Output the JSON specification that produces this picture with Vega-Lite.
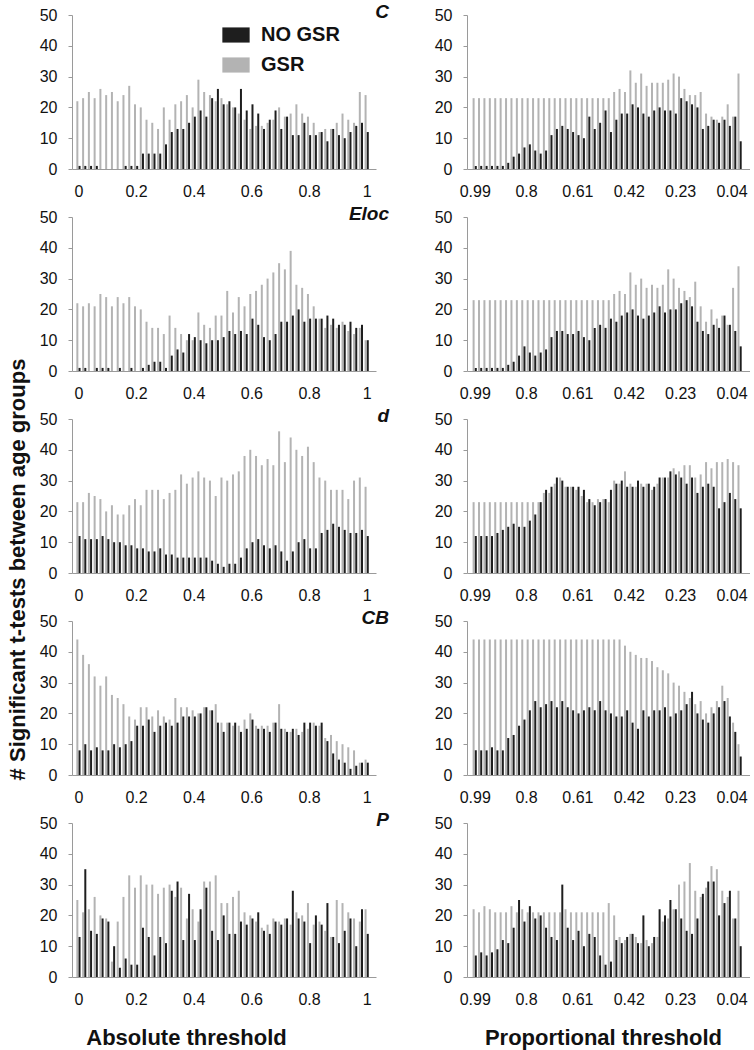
{
"$schema":"https://vega.github.io/schema/vega-lite/v6.json",
"background":"white",
"padding":{"left":6,"top":3,"right":0,"bottom":4},
"config":{
 "font":"Liberation Sans",
 "view":{"stroke":null},
 "axis":{"grid":false,"domainColor":"#9a9a9a","tickColor":"#9a9a9a","labelFontSize":16,"labelColor":"#111","labelFont":"Liberation Sans"},
 "axisX":{"ticks":false,"labelPadding":14,"labelFlush":false,"labelOverlap":false},
 "axisY":{"tickSize":4,"labelPadding":11,"values":[0,10,20,30,40,50]},
 "title":{"fontSize":19,"fontWeight":"bold","fontStyle":"italic","color":"#111","anchor":"end","frame":"group","offset":-9,"dy":6,"dx":13}
},
"columns":2,
"bounds":"flush",
"spacing":{"row":48,"column":91},
"concat":[
 {"width":304,"height":154,"data":{"name":"Ca"},"title":"C",
  "encoding":{"x":{"field":"x","type":"quantitative","scale":{"domain":[-0.005,1.015],"nice":false},"axis":{"values":[0,0.2,0.4,0.6,0.8,1],"format":".2~g","title":null}}},
  "layer":[
   {"mark":{"type":"bar","width":2,"xOffset":-1.1},"encoding":{"y":{"field":"g","type":"quantitative","scale":{"domain":[0,50],"nice":false},"axis":{"title":null}},
     "color":{"datum":"GSR","scale":{"domain":["NO GSR","GSR"],"range":["#1e1e1e","#b3b3b3"]},"legend":{"title":null,"orient":"none","legendX":154,"legendY":10,"labelFontSize":20,"labelFontWeight":"bold","labelColor":"#111","symbolType":"M-1.8,-1H1.8V1H-1.8Z","symbolSize":230,"symbolStrokeWidth":0,"symbolOpacity":1,"rowPadding":10,"labelOffset":15}}}},
   {"mark":{"type":"bar","width":2,"xOffset":1.1},"encoding":{"y":{"field":"n","type":"quantitative","title":null},"color":{"datum":"NO GSR"}}}
  ]},
 {"width":283,"height":154,"data":{"name":"Cp"},
  "encoding":{"x":{"field":"x","type":"quantitative","scale":{"domain":[-0.01,1],"reverse":true,"nice":false},"axis":{"values":[0.99,0.8,0.61,0.42,0.23,0.04],"format":".2~g","title":null}}},
  "layer":[
   {"mark":{"type":"bar","width":2,"xOffset":-1.1,"color":"#b3b3b3"},"encoding":{"y":{"field":"g","type":"quantitative","scale":{"domain":[0,50],"nice":false},"axis":{"title":null}}}},
   {"mark":{"type":"bar","width":2,"xOffset":1.1,"color":"#1e1e1e"},"encoding":{"y":{"field":"n","type":"quantitative","title":null}}}
  ]},
 {"width":304,"height":154,"data":{"name":"Ea"},"title":"Eloc",
  "encoding":{"x":{"field":"x","type":"quantitative","scale":{"domain":[-0.005,1.015],"nice":false},"axis":{"values":[0,0.2,0.4,0.6,0.8,1],"format":".2~g","title":null}}},
  "layer":[
   {"mark":{"type":"bar","width":2,"xOffset":-1.1,"color":"#b3b3b3"},"encoding":{"y":{"field":"g","type":"quantitative","scale":{"domain":[0,50],"nice":false},"axis":{"title":null}}}},
   {"mark":{"type":"bar","width":2,"xOffset":1.1,"color":"#1e1e1e"},"encoding":{"y":{"field":"n","type":"quantitative","title":null}}}
  ]},
 {"width":283,"height":154,"data":{"name":"Ep"},
  "encoding":{"x":{"field":"x","type":"quantitative","scale":{"domain":[-0.01,1],"reverse":true,"nice":false},"axis":{"values":[0.99,0.8,0.61,0.42,0.23,0.04],"format":".2~g","title":null}}},
  "layer":[
   {"mark":{"type":"bar","width":2,"xOffset":-1.1,"color":"#b3b3b3"},"encoding":{"y":{"field":"g","type":"quantitative","scale":{"domain":[0,50],"nice":false},"axis":{"title":null}}}},
   {"mark":{"type":"bar","width":2,"xOffset":1.1,"color":"#1e1e1e"},"encoding":{"y":{"field":"n","type":"quantitative","title":null}}}
  ]},
 {"width":304,"height":154,"data":{"name":"da"},"title":"d",
  "encoding":{"x":{"field":"x","type":"quantitative","scale":{"domain":[-0.005,1.015],"nice":false},"axis":{"values":[0,0.2,0.4,0.6,0.8,1],"format":".2~g","title":null}}},
  "layer":[
   {"mark":{"type":"bar","width":2,"xOffset":-1.1,"color":"#b3b3b3"},"encoding":{"y":{"field":"g","type":"quantitative","scale":{"domain":[0,50],"nice":false},"axis":{"title":null}}}},
   {"mark":{"type":"bar","width":2,"xOffset":1.1,"color":"#1e1e1e"},"encoding":{"y":{"field":"n","type":"quantitative","title":null}}}
  ]},
 {"width":283,"height":154,"data":{"name":"dp"},
  "encoding":{"x":{"field":"x","type":"quantitative","scale":{"domain":[-0.01,1],"reverse":true,"nice":false},"axis":{"values":[0.99,0.8,0.61,0.42,0.23,0.04],"format":".2~g","title":null}}},
  "layer":[
   {"mark":{"type":"bar","width":2,"xOffset":-1.1,"color":"#b3b3b3"},"encoding":{"y":{"field":"g","type":"quantitative","title":"# Significant t-tests between age groups","scale":{"domain":[0,50],"nice":false},"axis":{"title":"# Significant t-tests between age groups","titleFont":"Liberation Sans","titleFontSize":22,"titleFontWeight":"bold","titleColor":"#111","titleX":-450,"titleY":150,"titleBaseline":"middle","titleAlign":"center","titleAngle":-90}}}},
   {"mark":{"type":"bar","width":2,"xOffset":1.1,"color":"#1e1e1e"},"encoding":{"y":{"field":"n","type":"quantitative","title":"# Significant t-tests between age groups"}}}
  ]},
 {"width":304,"height":154,"data":{"name":"Ba"},"title":"CB",
  "encoding":{"x":{"field":"x","type":"quantitative","scale":{"domain":[-0.005,1.015],"nice":false},"axis":{"values":[0,0.2,0.4,0.6,0.8,1],"format":".2~g","title":null}}},
  "layer":[
   {"mark":{"type":"bar","width":2,"xOffset":-1.1,"color":"#b3b3b3"},"encoding":{"y":{"field":"g","type":"quantitative","scale":{"domain":[0,50],"nice":false},"axis":{"title":null}}}},
   {"mark":{"type":"bar","width":2,"xOffset":1.1,"color":"#1e1e1e"},"encoding":{"y":{"field":"n","type":"quantitative","title":null}}}
  ]},
 {"width":283,"height":154,"data":{"name":"Bp"},
  "encoding":{"x":{"field":"x","type":"quantitative","scale":{"domain":[-0.01,1],"reverse":true,"nice":false},"axis":{"values":[0.99,0.8,0.61,0.42,0.23,0.04],"format":".2~g","title":null}}},
  "layer":[
   {"mark":{"type":"bar","width":2,"xOffset":-1.1,"color":"#b3b3b3"},"encoding":{"y":{"field":"g","type":"quantitative","scale":{"domain":[0,50],"nice":false},"axis":{"title":null}}}},
   {"mark":{"type":"bar","width":2,"xOffset":1.1,"color":"#1e1e1e"},"encoding":{"y":{"field":"n","type":"quantitative","title":null}}}
  ]},
 {"width":304,"height":154,"data":{"name":"Pa"},"title":"P",
  "encoding":{"x":{"field":"x","type":"quantitative","scale":{"domain":[-0.005,1.015],"nice":false},"axis":{"values":[0,0.2,0.4,0.6,0.8,1],"format":".2~g","title":"Absolute threshold","titleFont":"Liberation Sans","titleFontSize":22,"titleFontWeight":"bold","titleColor":"#111","titleX":114,"titleY":50}}},
  "layer":[
   {"mark":{"type":"bar","width":2,"xOffset":-1.1,"color":"#b3b3b3"},"encoding":{"y":{"field":"g","type":"quantitative","scale":{"domain":[0,50],"nice":false},"axis":{"title":null}}}},
   {"mark":{"type":"bar","width":2,"xOffset":1.1,"color":"#1e1e1e"},"encoding":{"y":{"field":"n","type":"quantitative","title":null}}}
  ]},
 {"width":283,"height":154,"data":{"name":"Pp"},
  "encoding":{"x":{"field":"x","type":"quantitative","scale":{"domain":[-0.01,1],"reverse":true,"nice":false},"axis":{"values":[0.99,0.8,0.61,0.42,0.23,0.04],"format":".2~g","title":"Proportional threshold","titleFont":"Liberation Sans","titleFontSize":22,"titleFontWeight":"bold","titleColor":"#111","titleX":136,"titleY":50}}},
  "layer":[
   {"mark":{"type":"bar","width":2,"xOffset":-1.1,"color":"#b3b3b3"},"encoding":{"y":{"field":"g","type":"quantitative","scale":{"domain":[0,50],"nice":false},"axis":{"title":null}}}},
   {"mark":{"type":"bar","width":2,"xOffset":1.1,"color":"#1e1e1e"},"encoding":{"y":{"field":"n","type":"quantitative","title":null}}}
  ]}
],
"datasets":{
"Ca":[{"x":0,"n":1,"g":22},{"x":0.02,"n":1,"g":23},{"x":0.04,"n":1,"g":25},{"x":0.06,"n":1,"g":23},{"x":0.08,"n":0,"g":26},{"x":0.1,"n":0,"g":24},{"x":0.12,"n":0,"g":25},{"x":0.14,"n":0,"g":22},{"x":0.16,"n":1,"g":24},{"x":0.18,"n":1,"g":27},{"x":0.2,"n":1,"g":21},{"x":0.22,"n":5,"g":20},{"x":0.24,"n":5,"g":16},{"x":0.26,"n":5,"g":15},{"x":0.28,"n":5,"g":13},{"x":0.3,"n":8,"g":20},{"x":0.32,"n":12,"g":16},{"x":0.34,"n":13,"g":21},{"x":0.36,"n":13,"g":22},{"x":0.38,"n":15,"g":24},{"x":0.4,"n":17,"g":20},{"x":0.42,"n":19,"g":29},{"x":0.44,"n":17,"g":25},{"x":0.46,"n":23,"g":24},{"x":0.48,"n":26,"g":22},{"x":0.5,"n":21,"g":23},{"x":0.52,"n":22,"g":21},{"x":0.54,"n":20,"g":20},{"x":0.56,"n":26,"g":18},{"x":0.58,"n":19,"g":16},{"x":0.6,"n":21,"g":13},{"x":0.62,"n":18,"g":14},{"x":0.64,"n":13,"g":14},{"x":0.66,"n":16,"g":15},{"x":0.68,"n":19,"g":16},{"x":0.7,"n":13,"g":20},{"x":0.72,"n":17,"g":17},{"x":0.74,"n":11,"g":18},{"x":0.76,"n":11,"g":21},{"x":0.78,"n":15,"g":18},{"x":0.8,"n":11,"g":17},{"x":0.82,"n":11,"g":15},{"x":0.84,"n":12,"g":12},{"x":0.86,"n":9,"g":13},{"x":0.88,"n":13,"g":13},{"x":0.9,"n":11,"g":15},{"x":0.92,"n":10,"g":18},{"x":0.94,"n":12,"g":16},{"x":0.96,"n":14,"g":15},{"x":0.98,"n":15,"g":25},{"x":1,"n":12,"g":24}],
"Cp":[{"x":0.99,"n":1,"g":23},{"x":0.97,"n":1,"g":23},{"x":0.95,"n":1,"g":23},{"x":0.93,"n":1,"g":23},{"x":0.91,"n":1,"g":23},{"x":0.89,"n":1,"g":23},{"x":0.87,"n":2,"g":23},{"x":0.85,"n":4,"g":23},{"x":0.83,"n":5,"g":23},{"x":0.81,"n":7,"g":23},{"x":0.79,"n":8,"g":23},{"x":0.77,"n":6,"g":23},{"x":0.75,"n":5,"g":23},{"x":0.73,"n":6,"g":23},{"x":0.71,"n":11,"g":23},{"x":0.69,"n":13,"g":23},{"x":0.67,"n":14,"g":23},{"x":0.65,"n":13,"g":23},{"x":0.63,"n":12,"g":23},{"x":0.61,"n":11,"g":23},{"x":0.59,"n":10,"g":23},{"x":0.57,"n":17,"g":23},{"x":0.55,"n":13,"g":23},{"x":0.53,"n":15,"g":23},{"x":0.51,"n":19,"g":23},{"x":0.49,"n":12,"g":23},{"x":0.47,"n":16,"g":25},{"x":0.45,"n":18,"g":26},{"x":0.43,"n":18,"g":25},{"x":0.41,"n":21,"g":32},{"x":0.39,"n":20,"g":28},{"x":0.37,"n":18,"g":31},{"x":0.35,"n":17,"g":27},{"x":0.33,"n":19,"g":28},{"x":0.31,"n":20,"g":28},{"x":0.29,"n":19,"g":28},{"x":0.27,"n":19,"g":29},{"x":0.25,"n":18,"g":31},{"x":0.23,"n":23,"g":30},{"x":0.21,"n":22,"g":26},{"x":0.19,"n":21,"g":24},{"x":0.17,"n":20,"g":24},{"x":0.15,"n":13,"g":25},{"x":0.13,"n":14,"g":18},{"x":0.11,"n":16,"g":17},{"x":0.09,"n":15,"g":16},{"x":0.07,"n":16,"g":17},{"x":0.05,"n":14,"g":21},{"x":0.03,"n":17,"g":17},{"x":0.01,"n":9,"g":31}],
"Ea":[{"x":0,"n":1,"g":22},{"x":0.02,"n":1,"g":21},{"x":0.04,"n":0,"g":22},{"x":0.06,"n":1,"g":21},{"x":0.08,"n":1,"g":25},{"x":0.1,"n":1,"g":24},{"x":0.12,"n":0,"g":21},{"x":0.14,"n":1,"g":24},{"x":0.16,"n":0,"g":22},{"x":0.18,"n":1,"g":24},{"x":0.2,"n":0,"g":21},{"x":0.22,"n":1,"g":20},{"x":0.24,"n":2,"g":16},{"x":0.26,"n":3,"g":14},{"x":0.28,"n":3,"g":14},{"x":0.3,"n":1,"g":12},{"x":0.32,"n":5,"g":18},{"x":0.34,"n":7,"g":14},{"x":0.36,"n":6,"g":12},{"x":0.38,"n":12,"g":10},{"x":0.4,"n":11,"g":10},{"x":0.42,"n":10,"g":19},{"x":0.44,"n":9,"g":15},{"x":0.46,"n":10,"g":14},{"x":0.48,"n":10,"g":18},{"x":0.5,"n":11,"g":18},{"x":0.52,"n":13,"g":26},{"x":0.54,"n":12,"g":19},{"x":0.56,"n":13,"g":24},{"x":0.58,"n":12,"g":21},{"x":0.6,"n":17,"g":25},{"x":0.62,"n":15,"g":26},{"x":0.64,"n":11,"g":28},{"x":0.66,"n":10,"g":30},{"x":0.68,"n":12,"g":32},{"x":0.7,"n":16,"g":35},{"x":0.72,"n":16,"g":33},{"x":0.74,"n":18,"g":39},{"x":0.76,"n":20,"g":28},{"x":0.78,"n":16,"g":27},{"x":0.8,"n":17,"g":25},{"x":0.82,"n":17,"g":21},{"x":0.84,"n":17,"g":17},{"x":0.86,"n":18,"g":14},{"x":0.88,"n":17,"g":15},{"x":0.9,"n":15,"g":14},{"x":0.92,"n":15,"g":16},{"x":0.94,"n":16,"g":13},{"x":0.96,"n":14,"g":12},{"x":0.98,"n":15,"g":14},{"x":1,"n":10,"g":10}],
"Ep":[{"x":0.99,"n":1,"g":23},{"x":0.97,"n":1,"g":23},{"x":0.95,"n":1,"g":23},{"x":0.93,"n":1,"g":23},{"x":0.91,"n":1,"g":23},{"x":0.89,"n":1,"g":23},{"x":0.87,"n":2,"g":23},{"x":0.85,"n":3,"g":23},{"x":0.83,"n":5,"g":23},{"x":0.81,"n":8,"g":23},{"x":0.79,"n":6,"g":23},{"x":0.77,"n":5,"g":23},{"x":0.75,"n":6,"g":23},{"x":0.73,"n":7,"g":23},{"x":0.71,"n":11,"g":23},{"x":0.69,"n":13,"g":23},{"x":0.67,"n":13,"g":23},{"x":0.65,"n":12,"g":23},{"x":0.63,"n":12,"g":23},{"x":0.61,"n":13,"g":23},{"x":0.59,"n":11,"g":23},{"x":0.57,"n":10,"g":23},{"x":0.55,"n":14,"g":23},{"x":0.53,"n":15,"g":23},{"x":0.51,"n":14,"g":23},{"x":0.49,"n":17,"g":23},{"x":0.47,"n":16,"g":25},{"x":0.45,"n":18,"g":26},{"x":0.43,"n":19,"g":25},{"x":0.41,"n":20,"g":32},{"x":0.39,"n":18,"g":28},{"x":0.37,"n":17,"g":30},{"x":0.35,"n":18,"g":27},{"x":0.33,"n":19,"g":28},{"x":0.31,"n":21,"g":27},{"x":0.29,"n":19,"g":28},{"x":0.27,"n":20,"g":33},{"x":0.25,"n":20,"g":30},{"x":0.23,"n":22,"g":27},{"x":0.21,"n":23,"g":26},{"x":0.19,"n":21,"g":24},{"x":0.17,"n":16,"g":29},{"x":0.15,"n":13,"g":21},{"x":0.13,"n":12,"g":16},{"x":0.11,"n":15,"g":20},{"x":0.09,"n":14,"g":17},{"x":0.07,"n":18,"g":18},{"x":0.05,"n":15,"g":15},{"x":0.03,"n":13,"g":27},{"x":0.01,"n":8,"g":34}],
"da":[{"x":0,"n":12,"g":23},{"x":0.02,"n":11,"g":23},{"x":0.04,"n":11,"g":26},{"x":0.06,"n":11,"g":25},{"x":0.08,"n":12,"g":24},{"x":0.1,"n":11,"g":20},{"x":0.12,"n":10,"g":22},{"x":0.14,"n":10,"g":19},{"x":0.16,"n":9,"g":19},{"x":0.18,"n":9,"g":22},{"x":0.2,"n":8,"g":24},{"x":0.22,"n":8,"g":22},{"x":0.24,"n":7,"g":27},{"x":0.26,"n":7,"g":27},{"x":0.28,"n":8,"g":27},{"x":0.3,"n":6,"g":24},{"x":0.32,"n":6,"g":26},{"x":0.34,"n":5,"g":27},{"x":0.36,"n":5,"g":32},{"x":0.38,"n":5,"g":29},{"x":0.4,"n":5,"g":31},{"x":0.42,"n":5,"g":33},{"x":0.44,"n":5,"g":31},{"x":0.46,"n":4,"g":30},{"x":0.48,"n":3,"g":25},{"x":0.5,"n":2,"g":31},{"x":0.52,"n":3,"g":30},{"x":0.54,"n":3,"g":32},{"x":0.56,"n":5,"g":33},{"x":0.58,"n":8,"g":38},{"x":0.6,"n":10,"g":40},{"x":0.62,"n":11,"g":38},{"x":0.64,"n":9,"g":35},{"x":0.66,"n":8,"g":37},{"x":0.68,"n":9,"g":35},{"x":0.7,"n":7,"g":46},{"x":0.72,"n":4,"g":36},{"x":0.74,"n":7,"g":44},{"x":0.76,"n":10,"g":40},{"x":0.78,"n":11,"g":38},{"x":0.8,"n":8,"g":41},{"x":0.82,"n":8,"g":36},{"x":0.84,"n":13,"g":31},{"x":0.86,"n":14,"g":30},{"x":0.88,"n":16,"g":27},{"x":0.9,"n":15,"g":27},{"x":0.92,"n":14,"g":27},{"x":0.94,"n":13,"g":24},{"x":0.96,"n":13,"g":30},{"x":0.98,"n":14,"g":31},{"x":1,"n":12,"g":28}],
"dp":[{"x":0.99,"n":12,"g":23},{"x":0.97,"n":12,"g":23},{"x":0.95,"n":12,"g":23},{"x":0.93,"n":12,"g":23},{"x":0.91,"n":13,"g":23},{"x":0.89,"n":14,"g":23},{"x":0.87,"n":15,"g":23},{"x":0.85,"n":16,"g":23},{"x":0.83,"n":15,"g":23},{"x":0.81,"n":15,"g":23},{"x":0.79,"n":17,"g":23},{"x":0.77,"n":19,"g":23},{"x":0.75,"n":23,"g":23},{"x":0.73,"n":27,"g":26},{"x":0.71,"n":28,"g":26},{"x":0.69,"n":31,"g":29},{"x":0.67,"n":30,"g":31},{"x":0.65,"n":28,"g":28},{"x":0.63,"n":28,"g":28},{"x":0.61,"n":28,"g":27},{"x":0.59,"n":27,"g":25},{"x":0.57,"n":24,"g":23},{"x":0.55,"n":22,"g":23},{"x":0.53,"n":23,"g":24},{"x":0.51,"n":24,"g":24},{"x":0.49,"n":27,"g":23},{"x":0.47,"n":29,"g":30},{"x":0.45,"n":30,"g":29},{"x":0.43,"n":28,"g":33},{"x":0.41,"n":28,"g":29},{"x":0.39,"n":30,"g":28},{"x":0.37,"n":28,"g":29},{"x":0.35,"n":29,"g":29},{"x":0.33,"n":28,"g":27},{"x":0.31,"n":31,"g":29},{"x":0.29,"n":31,"g":31},{"x":0.27,"n":33,"g":31},{"x":0.25,"n":32,"g":34},{"x":0.23,"n":31,"g":33},{"x":0.21,"n":29,"g":35},{"x":0.19,"n":31,"g":35},{"x":0.17,"n":26,"g":31},{"x":0.15,"n":28,"g":32},{"x":0.13,"n":29,"g":36},{"x":0.11,"n":28,"g":34},{"x":0.09,"n":21,"g":36},{"x":0.07,"n":23,"g":36},{"x":0.05,"n":26,"g":37},{"x":0.03,"n":24,"g":36},{"x":0.01,"n":21,"g":35}],
"Ba":[{"x":0,"n":8,"g":44},{"x":0.02,"n":10,"g":39},{"x":0.04,"n":8,"g":36},{"x":0.06,"n":9,"g":32},{"x":0.08,"n":8,"g":29},{"x":0.1,"n":8,"g":32},{"x":0.12,"n":10,"g":26},{"x":0.14,"n":9,"g":25},{"x":0.16,"n":10,"g":23},{"x":0.18,"n":11,"g":19},{"x":0.2,"n":16,"g":18},{"x":0.22,"n":16,"g":22},{"x":0.24,"n":18,"g":22},{"x":0.26,"n":14,"g":19},{"x":0.28,"n":16,"g":21},{"x":0.3,"n":17,"g":19},{"x":0.32,"n":16,"g":18},{"x":0.34,"n":17,"g":25},{"x":0.36,"n":19,"g":22},{"x":0.38,"n":19,"g":22},{"x":0.4,"n":19,"g":21},{"x":0.42,"n":20,"g":20},{"x":0.44,"n":22,"g":22},{"x":0.46,"n":21,"g":21},{"x":0.48,"n":17,"g":23},{"x":0.5,"n":14,"g":17},{"x":0.52,"n":17,"g":17},{"x":0.54,"n":17,"g":16},{"x":0.56,"n":14,"g":16},{"x":0.58,"n":15,"g":18},{"x":0.6,"n":18,"g":20},{"x":0.62,"n":15,"g":16},{"x":0.64,"n":15,"g":16},{"x":0.66,"n":14,"g":16},{"x":0.68,"n":17,"g":17},{"x":0.7,"n":15,"g":23},{"x":0.72,"n":14,"g":15},{"x":0.74,"n":15,"g":14},{"x":0.76,"n":13,"g":15},{"x":0.78,"n":17,"g":14},{"x":0.8,"n":17,"g":15},{"x":0.82,"n":16,"g":17},{"x":0.84,"n":17,"g":16},{"x":0.86,"n":11,"g":12},{"x":0.88,"n":7,"g":13},{"x":0.9,"n":5,"g":11},{"x":0.92,"n":4,"g":10},{"x":0.94,"n":2,"g":9},{"x":0.96,"n":3,"g":8},{"x":0.98,"n":4,"g":4},{"x":1,"n":4,"g":5}],
"Bp":[{"x":0.99,"n":8,"g":44},{"x":0.97,"n":8,"g":44},{"x":0.95,"n":8,"g":44},{"x":0.93,"n":9,"g":44},{"x":0.91,"n":8,"g":44},{"x":0.89,"n":8,"g":44},{"x":0.87,"n":12,"g":44},{"x":0.85,"n":13,"g":44},{"x":0.83,"n":16,"g":44},{"x":0.81,"n":18,"g":44},{"x":0.79,"n":21,"g":44},{"x":0.77,"n":24,"g":44},{"x":0.75,"n":22,"g":44},{"x":0.73,"n":23,"g":44},{"x":0.71,"n":24,"g":44},{"x":0.69,"n":22,"g":44},{"x":0.67,"n":24,"g":44},{"x":0.65,"n":22,"g":44},{"x":0.63,"n":21,"g":44},{"x":0.61,"n":20,"g":44},{"x":0.59,"n":21,"g":44},{"x":0.57,"n":22,"g":44},{"x":0.55,"n":21,"g":44},{"x":0.53,"n":24,"g":44},{"x":0.51,"n":21,"g":44},{"x":0.49,"n":20,"g":44},{"x":0.47,"n":19,"g":44},{"x":0.45,"n":19,"g":44},{"x":0.43,"n":21,"g":42},{"x":0.41,"n":17,"g":40},{"x":0.39,"n":15,"g":39},{"x":0.37,"n":21,"g":38},{"x":0.35,"n":19,"g":38},{"x":0.33,"n":21,"g":37},{"x":0.31,"n":21,"g":35},{"x":0.29,"n":22,"g":34},{"x":0.27,"n":19,"g":33},{"x":0.25,"n":20,"g":30},{"x":0.23,"n":21,"g":29},{"x":0.21,"n":23,"g":27},{"x":0.19,"n":27,"g":25},{"x":0.17,"n":20,"g":23},{"x":0.15,"n":18,"g":24},{"x":0.13,"n":17,"g":20},{"x":0.11,"n":20,"g":22},{"x":0.09,"n":22,"g":24},{"x":0.07,"n":24,"g":29},{"x":0.05,"n":19,"g":25},{"x":0.03,"n":14,"g":17},{"x":0.01,"n":6,"g":10}],
"Pa":[{"x":0,"n":13,"g":25},{"x":0.02,"n":35,"g":21},{"x":0.04,"n":15,"g":22},{"x":0.06,"n":14,"g":26},{"x":0.08,"n":19,"g":20},{"x":0.1,"n":18,"g":19},{"x":0.12,"n":10,"g":5},{"x":0.14,"n":3,"g":18},{"x":0.16,"n":6,"g":26},{"x":0.18,"n":4,"g":33},{"x":0.2,"n":4,"g":29},{"x":0.22,"n":16,"g":33},{"x":0.24,"n":13,"g":30},{"x":0.26,"n":7,"g":30},{"x":0.28,"n":13,"g":27},{"x":0.3,"n":11,"g":29},{"x":0.32,"n":28,"g":30},{"x":0.34,"n":31,"g":26},{"x":0.36,"n":12,"g":29},{"x":0.38,"n":27,"g":19},{"x":0.4,"n":12,"g":22},{"x":0.42,"n":22,"g":18},{"x":0.44,"n":29,"g":31},{"x":0.46,"n":15,"g":31},{"x":0.48,"n":12,"g":33},{"x":0.5,"n":20,"g":24},{"x":0.52,"n":14,"g":24},{"x":0.54,"n":14,"g":26},{"x":0.56,"n":18,"g":28},{"x":0.58,"n":17,"g":21},{"x":0.6,"n":19,"g":20},{"x":0.62,"n":21,"g":18},{"x":0.64,"n":15,"g":16},{"x":0.66,"n":14,"g":17},{"x":0.68,"n":18,"g":19},{"x":0.7,"n":17,"g":18},{"x":0.72,"n":19,"g":19},{"x":0.74,"n":28,"g":17},{"x":0.76,"n":19,"g":21},{"x":0.78,"n":18,"g":20},{"x":0.8,"n":11,"g":24},{"x":0.82,"n":20,"g":17},{"x":0.84,"n":17,"g":18},{"x":0.86,"n":24,"g":15},{"x":0.88,"n":13,"g":13},{"x":0.9,"n":11,"g":25},{"x":0.92,"n":15,"g":24},{"x":0.94,"n":19,"g":21},{"x":0.96,"n":10,"g":19},{"x":0.98,"n":22,"g":18},{"x":1,"n":14,"g":22}],
"Pp":[{"x":0.99,"n":7,"g":22},{"x":0.97,"n":8,"g":21},{"x":0.95,"n":7,"g":23},{"x":0.93,"n":8,"g":22},{"x":0.91,"n":9,"g":21},{"x":0.89,"n":12,"g":21},{"x":0.87,"n":11,"g":21},{"x":0.85,"n":16,"g":23},{"x":0.83,"n":25,"g":21},{"x":0.81,"n":18,"g":22},{"x":0.79,"n":23,"g":21},{"x":0.77,"n":19,"g":21},{"x":0.75,"n":20,"g":21},{"x":0.73,"n":16,"g":21},{"x":0.71,"n":13,"g":21},{"x":0.69,"n":12,"g":21},{"x":0.67,"n":30,"g":21},{"x":0.65,"n":16,"g":22},{"x":0.63,"n":12,"g":21},{"x":0.61,"n":15,"g":21},{"x":0.59,"n":10,"g":21},{"x":0.57,"n":14,"g":21},{"x":0.55,"n":13,"g":21},{"x":0.53,"n":7,"g":21},{"x":0.51,"n":4,"g":21},{"x":0.49,"n":5,"g":24},{"x":0.47,"n":12,"g":20},{"x":0.45,"n":11,"g":13},{"x":0.43,"n":13,"g":12},{"x":0.41,"n":14,"g":14},{"x":0.39,"n":11,"g":13},{"x":0.37,"n":20,"g":11},{"x":0.35,"n":10,"g":12},{"x":0.33,"n":13,"g":11},{"x":0.31,"n":22,"g":13},{"x":0.29,"n":20,"g":18},{"x":0.27,"n":25,"g":19},{"x":0.25,"n":22,"g":22},{"x":0.23,"n":19,"g":30},{"x":0.21,"n":15,"g":31},{"x":0.19,"n":14,"g":37},{"x":0.17,"n":19,"g":28},{"x":0.15,"n":27,"g":26},{"x":0.13,"n":31,"g":29},{"x":0.11,"n":31,"g":36},{"x":0.09,"n":20,"g":35},{"x":0.07,"n":24,"g":28},{"x":0.05,"n":28,"g":26},{"x":0.03,"n":19,"g":19},{"x":0.01,"n":10,"g":28}]
}
}
